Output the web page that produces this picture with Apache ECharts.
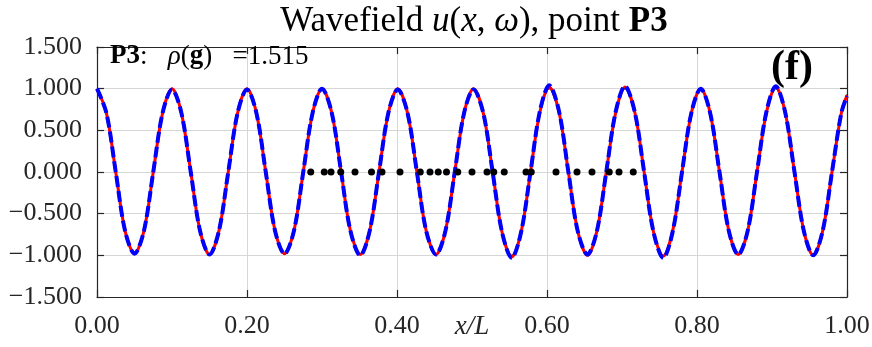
<!DOCTYPE html>
<html>
<head>
<meta charset="utf-8">
<script src="https://cdn.jsdelivr.net/npm/echarts@6/dist/echarts.min.js"></script>
<style>html,body{margin:0;padding:0;background:#fff;}#c{width:872px;height:347px;}</style>
</head>
<body>
<div id="c"></div>
<script>
// x positions (x/L) of the sampled curve points
const xs = [
  0.000, 0.0125, 0.025, 0.0375,
  0.050, 0.0625, 0.075, 0.0875,
  0.100, 0.1125, 0.125, 0.1375,
  0.150, 0.1625, 0.175, 0.1875,
  0.200, 0.2125, 0.225, 0.2375,
  0.250, 0.2625, 0.275, 0.2875,
  0.300, 0.313, 0.3255, 0.338,
  0.351, 0.3635, 0.376, 0.3885,
  0.401, 0.414, 0.4265, 0.439,
  0.452, 0.4645, 0.477, 0.4895,
  0.502, 0.515, 0.5275, 0.540,
  0.553, 0.5655, 0.578, 0.5905,
  0.603, 0.616, 0.6285, 0.641,
  0.654, 0.6665, 0.679, 0.6915,
  0.704, 0.717, 0.7295, 0.742,
  0.755, 0.7675, 0.780, 0.7925,
  0.805, 0.8175, 0.830, 0.8425,
  0.855, 0.8675, 0.880, 0.8925,
  0.905, 0.9175, 0.930, 0.9425,
  0.955, 0.9675, 0.980, 0.9925,
  1.000
];
// black thin curve
const uBlack = [
  1.00, 0.71, 0, -0.71, -0.99, -0.71, 0, 0.71,
  1.00, 0.71, 0, -0.71, -0.99, -0.71, 0, 0.71,
  1.00, 0.71, 0, -0.71, -0.99, -0.71, 0, 0.71,
  1.00, 0.71, 0, -0.71, -0.99, -0.71, 0, 0.71,
  1.00, 0.71, 0, -0.71, -0.99, -0.71, 0, 0.71,
  1.00, 0.71, 0, -0.71, -1.00, -0.71, 0, 0.71,
  1.00, 0.71, 0, -0.71, -1.00, -0.71, 0, 0.71,
  1.00, 0.71, 0, -0.71, -1.00, -0.71, 0, 0.71,
  1.00, 0.71, 0, -0.71, -0.99, -0.71, 0, 0.71,
  1.00, 0.71, 0, -0.71, -0.99, -0.71, 0, 0.71,
  0.93
];
// red solid curve
const uRed = [
  1.00, 0.71, 0, -0.71, -0.98, -0.71, 0, 0.71,
  1.00, 0.71, 0, -0.71, -0.99, -0.71, 0, 0.71,
  1.00, 0.71, 0, -0.71, -0.98, -0.71, 0, 0.71,
  1.00, 0.71, 0, -0.71, -0.99, -0.71, 0, 0.71,
  1.00, 0.71, 0, -0.71, -0.99, -0.71, 0, 0.71,
  1.00, 0.71, 0, -0.72, -1.02, -0.72, 0, 0.72,
  1.02, 0.72, 0, -0.71, -1.00, -0.71, 0, 0.71,
  1.02, 0.72, 0, -0.72, -1.01, -0.71, 0, 0.71,
  1.00, 0.71, 0, -0.71, -0.99, -0.71, 0, 0.71,
  1.02, 0.72, 0, -0.71, -1.00, -0.71, 0, 0.71,
  0.92
];
// blue dashed curve
const uBlue = [
  1.00, 0.71, 0, -0.71, -0.98, -0.71, 0, 0.71,
  0.99, 0.71, 0, -0.71, -0.99, -0.71, 0, 0.71,
  0.99, 0.71, 0, -0.71, -0.98, -0.71, 0, 0.71,
  1.00, 0.71, 0, -0.71, -1.00, -0.71, 0, 0.71,
  0.99, 0.71, 0, -0.71, -0.99, -0.71, 0, 0.71,
  0.99, 0.71, 0, -0.72, -1.03, -0.72, 0, 0.73,
  1.04, 0.73, 0, -0.71, -0.99, -0.71, 0, 0.72,
  1.03, 0.72, 0, -0.72, -1.03, -0.72, 0, 0.71,
  1.00, 0.71, 0, -0.71, -0.99, -0.71, 0, 0.72,
  1.03, 0.72, 0, -0.71, -1.00, -0.71, 0, 0.71,
  0.91
];
// black dots on the zero line
const dotX = [0.285, 0.303, 0.312, 0.325, 0.344, 0.366, 0.380, 0.404, 0.431, 0.444,
  0.455, 0.466, 0.481, 0.500, 0.520, 0.529, 0.543, 0.572, 0.579, 0.612,
  0.640, 0.660, 0.683, 0.696, 0.715];
const dotY = dotX.map(() => 0);
const xTicks = [0, 0.2, 0.4, 0.6, 0.8, 1.0];
const yTicks = [-1.5, -1, -0.5, 0, 0.5, 1, 1.5];

const pairs = (a, b) => a.map((v, i) => [v, b[i]]);
const F = 'Liberation Serif';
const AX = '#262626';

const yFmt = v => (v < 0 ? '\u2212' : '') + Math.abs(v).toFixed(3);
const xFmt = v => v.toFixed(2);

const chart = echarts.init(document.getElementById('c'), null, {renderer: 'canvas'});
chart.setOption({
  animation: false,
  backgroundColor: '#fff',
  title: {
    left: 469, top: -1, textAlign: 'center',
    text: '{r|Wavefield }{i|u}{r|(}{i|x}{r|, }{i|\u03c9}{r|), point }{b|P3}',
    textStyle: {
      fontWeight: 'normal', fontFamily: F, fontSize: 35,
      rich: {
        r: {fontFamily: F, fontSize: 35, fontWeight: 'normal', color: '#000'},
        i: {fontFamily: F, fontSize: 35, fontWeight: 'normal', fontStyle: 'italic', color: '#000'},
        b: {fontFamily: F, fontSize: 35, fontWeight: 'bold', color: '#000'}
      }
    }
  },
  grid: {left: 97, right: 25, top: 47, bottom: 50, containLabel: false, outerBoundsMode: 'none'},
  xAxis: [{
    type: 'value', min: 0, max: 1, interval: 0.2,
    axisLine: {show: true, onZero: false, lineStyle: {color: AX, width: 1.2}},
    axisTick: {show: true, inside: true, length: 7, lineStyle: {color: AX, width: 1.2}},
    axisLabel: {formatter: xFmt, fontFamily: F, fontSize: 26, color: AX, margin: 16},
    splitLine: {show: true, lineStyle: {color: '#d6d6d6', width: 1}}
  }, {
    type: 'value', min: 0, max: 1, interval: 0.2, position: 'top',
    axisLine: {show: true, onZero: false, lineStyle: {color: AX, width: 1.2}},
    axisTick: {show: true, inside: true, length: 7, lineStyle: {color: AX, width: 1.2}},
    axisLabel: {show: false}, splitLine: {show: false}
  }],
  yAxis: [{
    type: 'value', min: -1.5, max: 1.5, interval: 0.5,
    axisLine: {show: true, onZero: false, lineStyle: {color: AX, width: 1.2}},
    axisTick: {show: true, inside: true, length: 7, lineStyle: {color: AX, width: 1.2}},
    axisLabel: {formatter: yFmt, fontFamily: F, fontSize: 26, color: AX, margin: 15},
    splitLine: {show: true, lineStyle: {color: '#d6d6d6', width: 1}}
  }, {
    type: 'value', min: -1.5, max: 1.5, interval: 0.5, position: 'right',
    axisLine: {show: true, onZero: false, lineStyle: {color: AX, width: 1.2}},
    axisTick: {show: true, inside: true, length: 7, lineStyle: {color: AX, width: 1.2}},
    axisLabel: {show: false}, splitLine: {show: false}
  }],
  graphic: [{
    type: 'text', left: 110, top: 43, z: 100,
    style: {
      text: '{b|P3}{r|:}   {i|\u03c1}{r|(}{b|g}{r|)   =1.515}',
      fontFamily: F, fontSize: 27,
      rich: {
        r: {fontFamily: F, fontSize: 27, fill: '#000'},
        i: {fontFamily: F, fontSize: 27, fontStyle: 'italic', fill: '#000'},
        b: {fontFamily: F, fontSize: 27, fontWeight: 'bold', fill: '#000'}
      }
    }
  }, {
    type: 'text', left: 771, top: 47, z: 100,
    style: {text: '(f)', fontFamily: F, fontSize: 42, fontWeight: 'bold', fill: '#000'}
  }, {
    type: 'text', x: 472, y: 327, z: 100,
    style: {text: 'x/L', fontFamily: F, fontSize: 27, fontStyle: 'italic', fill: AX,
      align: 'center', verticalAlign: 'middle'}
  }],
  series: [{
    type: 'line', data: pairs(xs, uBlack), smooth: 0.33, showSymbol: false, z: 2,
    lineStyle: {color: '#000', width: 1.2}
  }, {
    type: 'line', data: pairs(xs, uRed), smooth: 0.33, showSymbol: false, z: 3,
    lineStyle: {color: '#ff0000', width: 3}
  }, {
    type: 'line', data: pairs(xs, uBlue), smooth: 0.33, showSymbol: false, z: 4,
    lineStyle: {color: '#0000ff', width: 4, type: [11, 4]}
  }, {
    type: 'scatter', data: pairs(dotX, dotY), symbol: 'circle', symbolSize: 7, z: 5,
    itemStyle: {color: '#000', opacity: 1}
  }]
});
</script>
</body>
</html>
